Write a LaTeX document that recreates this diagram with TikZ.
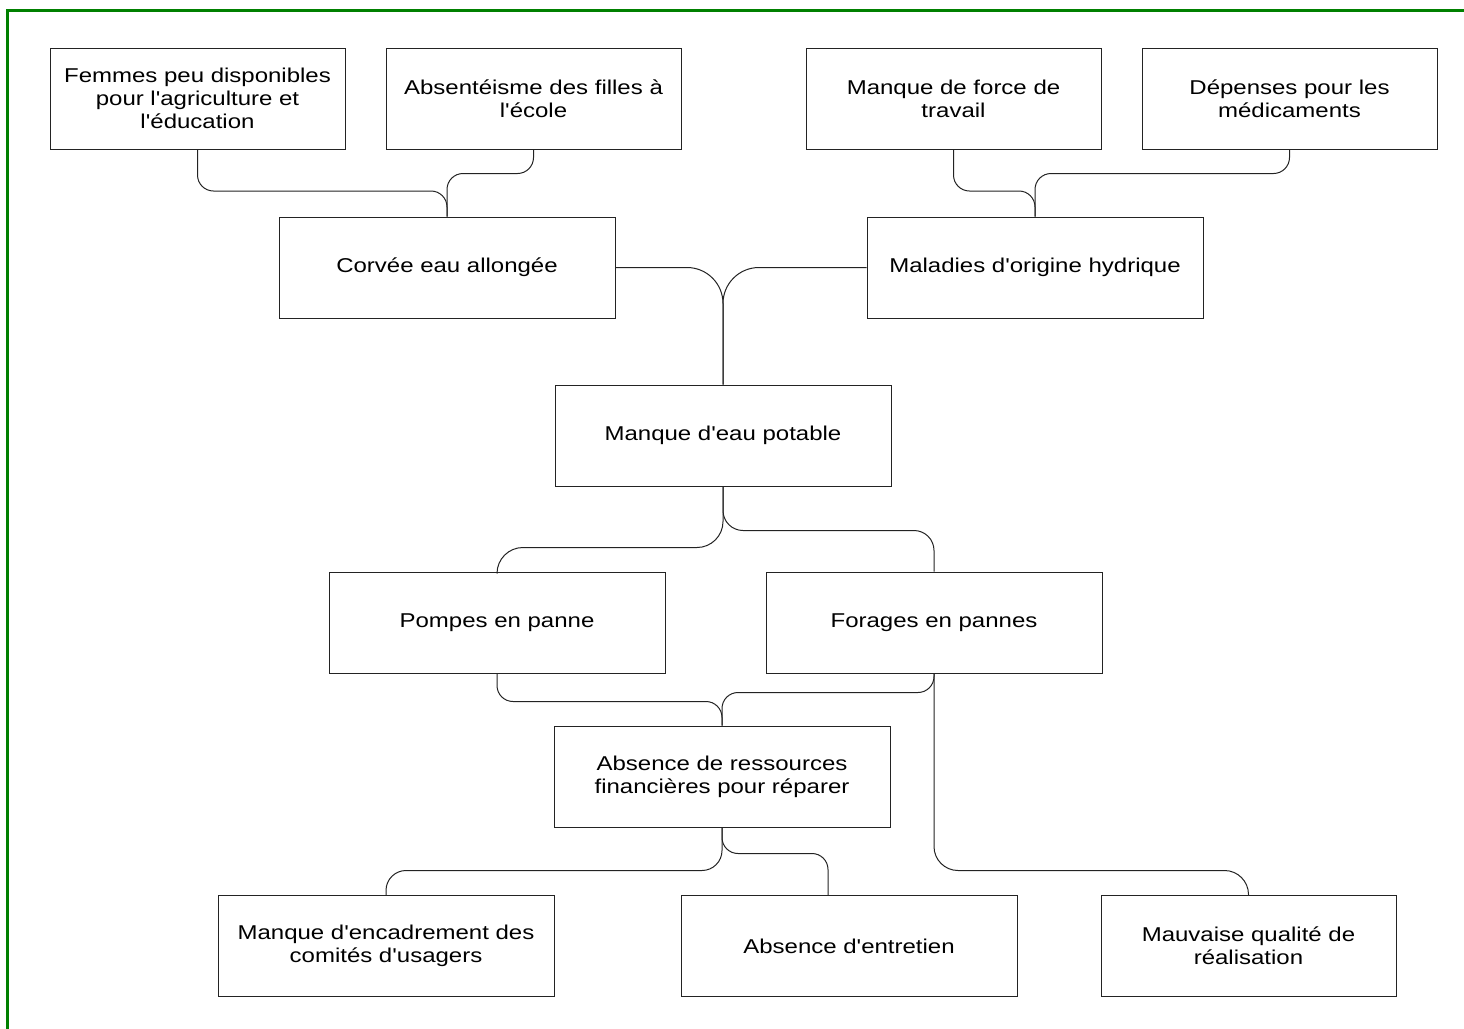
\documentclass[tikz,border=0pt]{standalone}
\usepackage{fontspec}
\setmainfont{Liberation Sans}[FakeStretch=1.2,Ligatures=TeXOff]
\usetikzlibrary{positioning}

\definecolor{framegreen}{RGB}{0,128,0}
\definecolor{ink}{RGB}{35,35,35}

\tikzset{
  box/.style={draw=ink, line width=0.5pt, minimum height=50.5pt, inner sep=0pt,
    align=center, text=black, font=\fontsize{10pt}{11.5pt}\selectfont},
  boxn/.style={box, minimum width=147.5pt},
  boxw/.style={box, minimum width=168pt},
  link/.style={draw=ink, line width=0.5pt, rounded corners=8pt},
}

\begin{document}
\begin{tikzpicture}[x=0.5pt,y=0.5pt,yscale=-1]
\useasboundingbox (0,0) rectangle (1464,1029);

%Frame
\draw[framegreen, line width=1.5pt] (7.5,1029) -- (7.5,10.5) -- (1464,10.5) ;

%Effects, top row
\node[boxn] (femmes) at (197.5,98.5) {Femmes peu disponibles\\pour l'agriculture et\\l'éducation};
\node[boxn] (absent) at (533.5,98.5) {Absentéisme des filles à\\l'école};
\node[boxn] (force) at (953.5,98.5) {Manque de force de\\travail};
\node[boxn] (depenses) at (1289.5,98.5) {Dépenses pour les\\médicaments};

%Effects, second row
\node[boxw] (corvee) at (447,267.5) {Corvée eau allongée};
\node[boxw] (maladies) at (1035,267.5) {Maladies d'origine hydrique};

%Core problem
\node[boxw] (eau) at (723,435.5) {Manque d'eau potable};

%Causes
\node[boxw] (pompes) at (497,622.5) {Pompes en panne};
\node[boxw] (forages) at (934,622.5) {Forages en pannes};
\node[boxw] (ressources) at (722,776.5) {Absence de ressources\\financières pour réparer};
\node[boxw] (encadrement) at (386,946) {Manque d'encadrement des\\comités d'usagers};
\node[boxw] (entretien) at (849,946) {Absence d'entretien};
\node[boxn] (mauvaise) at (1248.5,946) {Mauvaise qualité de\\réalisation};

%Connectors, top
\draw[link] (femmes.south) -- ++(0,41.5) -| (corvee.north) ;
\draw[link] (absent.south) -- ++(0,24) -| (corvee.north) ;
\draw[link] (force.south) -- ++(0,41.5) -| (maladies.north) ;
\draw[link] (depenses.south) -- ++(0,24) -| (maladies.north) ;

%Connectors, core
\draw[link, rounded corners=18pt] (corvee.east) -| (eau.north) ;
\draw[link, rounded corners=18pt] (maladies.west) -| (eau.north) ;
\draw[link, rounded corners=13pt] (eau.south) -- ++(0,61) -| (pompes.north) ;
\draw[link, rounded corners=10pt] (eau.south) -- ++(0,44) -| (forages.north) ;

%Connectors, causes
\draw[link] (pompes.south) -- ++(0,28) -| (ressources.north) ;
\draw[link] (forages.south) -- ++(0,19) -| (ressources.north) ;
\draw[link, rounded corners=12pt] (forages.south) -- ++(0,197) -| (mauvaise.north) ;
\draw[link, rounded corners=10pt] (ressources.south) -- ++(0,43) -| (encadrement.north) ;
\draw[link] (ressources.south) -- ++(0,26) -| ([xshift=-10.5pt]entretien.north) ;
\end{tikzpicture}
\end{document}
